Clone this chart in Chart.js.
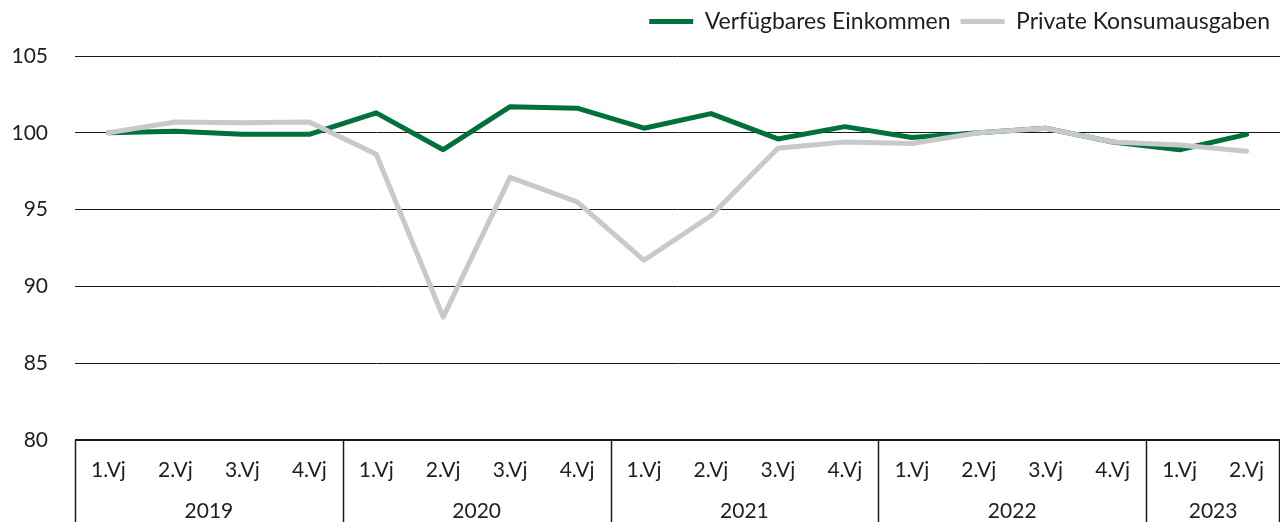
<!DOCTYPE html>
<html>
<head>
<meta charset="utf-8">
<script src="https://cdn.jsdelivr.net/npm/chart.js@4.4.1/dist/chart.umd.min.js"></script>
<style>
  html, body { margin: 0; padding: 0; background: #fff; }
  #wrap { width: 1280px; height: 522px; position: relative; }
</style>
</head>
<body>
<div id="wrap"><canvas id="chart"></canvas></div>
<script>
// data
const quarters = [
  "1.Vj", "2.Vj", "3.Vj", "4.Vj",
  "1.Vj", "2.Vj", "3.Vj", "4.Vj",
  "1.Vj", "2.Vj", "3.Vj", "4.Vj",
  "1.Vj", "2.Vj", "3.Vj", "4.Vj",
  "1.Vj", "2.Vj"
];
const years = [
  "2019", "2019", "2019", "2019",
  "2020", "2020", "2020", "2020",
  "2021", "2021", "2021", "2021",
  "2022", "2022", "2022", "2022",
  "2023", "2023"
];
const einkommen = [100.0, 100.1, 99.9, 99.9, 101.3, 98.9, 101.7, 101.6, 100.3, 101.25, 99.6, 100.4, 99.7, 100.0, 100.3, 99.4, 98.9, 99.9];
const konsum = [100.0, 100.7, 100.65, 100.7, 98.6, 88.0, 97.1, 95.5, 91.7, 94.6, 99.0, 99.4, 99.3, 100.0, 100.3, 99.4, 99.2, 98.8];
const yTicks = [80, 85, 90, 95, 100, 105];

const FONT = "Lato";
const TEXT = "#1e1e1e";
const LINE = "#1a1a1a";

// extra room between legend and plot
const legendGap = {
  id: "legendGap",
  beforeLayout(chart) {
    const lg = chart.legend;
    if (lg && !lg._gapPatched) {
      const fit = lg.fit;
      lg.fit = function () { fit.call(this); this.height += 13; };
      lg._gapPatched = true;
    }
  }
};

// year row + separators below the axis
const yearRow = {
  id: "yearRow",
  afterDraw(chart) {
    const { ctx, chartArea, scales } = chart;
    const x = scales.x;
    const half = (x.getPixelForValue(1) - x.getPixelForValue(0)) / 2;
    const bottom = chart.height;
    ctx.save();
    ctx.strokeStyle = LINE;
    ctx.lineWidth = 1.5;
    ctx.fillStyle = TEXT;
    ctx.font = "21px " + FONT;
    ctx.textAlign = "center";
    ctx.textBaseline = "middle";
    let start = 0;
    for (let i = 1; i <= years.length; i++) {
      if (i === years.length || years[i] !== years[start]) {
        const l = x.getPixelForValue(start) - half;
        const r = x.getPixelForValue(i - 1) + half;
        ctx.fillText(years[start], (l + r) / 2, 511);
        ctx.beginPath();
        ctx.moveTo(Math.round(l) + 0.5, chartArea.bottom);
        ctx.lineTo(Math.round(l) + 0.5, bottom);
        ctx.stroke();
        if (i === years.length) {
          const rx = Math.min(Math.round(r), chart.width - 1) + 0.5;
          ctx.beginPath();
          ctx.moveTo(rx, chartArea.bottom);
          ctx.lineTo(rx, bottom);
          ctx.stroke();
        }
        start = i;
      }
    }
    ctx.restore();
  }
};

new Chart(document.getElementById("chart"), {
  type: "line",
  data: {
    labels: quarters,
    datasets: [
      {
        label: "Verfügbares Einkommen",
        data: einkommen,
        borderColor: "#00703c",
        backgroundColor: "#00703c",
        borderWidth: 5,
        borderCapStyle: "round",
        borderJoinStyle: "round",
        pointRadius: 0,
        tension: 0,
        order: 1
      },
      {
        label: "Private Konsumausgaben",
        data: konsum,
        borderColor: "#c8c9cb",
        backgroundColor: "#c8c9cb",
        borderWidth: 5,
        borderCapStyle: "round",
        borderJoinStyle: "round",
        pointRadius: 0,
        tension: 0,
        order: 0
      }
    ]
  },
  options: {
    responsive: true,
    maintainAspectRatio: false,
    animation: false,
    layout: { padding: { top: 0, right: 0, left: 0, bottom: 0 } },
    plugins: {
      tooltip: { enabled: false },
      legend: {
        position: "top",
        align: "end",
        labels: {
          usePointStyle: true,
          pointStyle: "line",
          pointStyleWidth: 44,
          boxHeight: 5,
          color: TEXT,
          font: { family: FONT, size: 23 },
          padding: 10,
          sort: (a, b) => a.datasetIndex - b.datasetIndex
        }
      }
    },
    scales: {
      x: {
        offset: true,
        grid: { display: false },
        border: { display: false },
        ticks: {
          color: TEXT,
          font: { family: FONT, size: 21 },
          padding: 10,
          maxRotation: 0,
          autoSkip: false
        },
        afterFit(scale) { scale.height = 82; }
      },
      y: {
        min: 80,
        max: 105,
        afterBuildTicks(scale) { scale.ticks = yTicks.map(v => ({ value: v })); },
        grid: {
          color: LINE,
          lineWidth: ctx => (ctx.tick && ctx.tick.value === 80 ? 2 : 1),
          drawTicks: false
        },
        border: { display: false },
        ticks: {
          color: TEXT,
          font: { family: FONT, size: 21 },
          padding: 27
        },
        afterFit(scale) { scale.width = 75; }
      }
    }
  },
  plugins: [legendGap, yearRow]
});
</script>
</body>
</html>
